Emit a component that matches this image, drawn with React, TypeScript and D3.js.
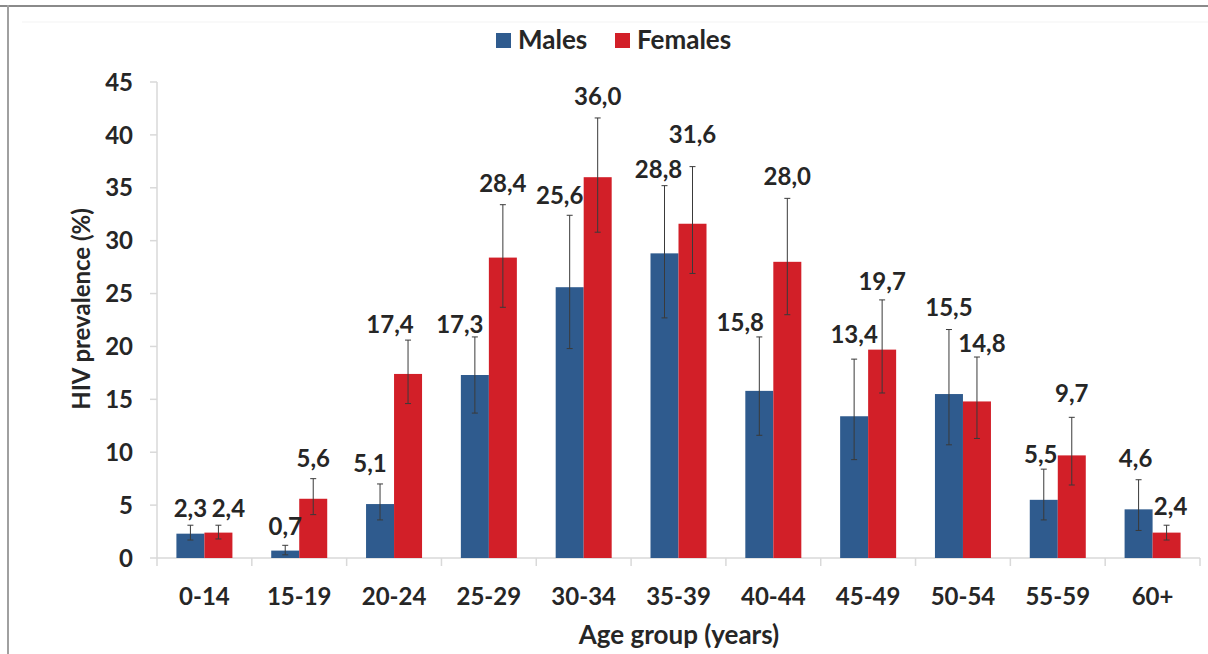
import React from "react";
import * as d3 from "d3";

const categories = ["0-14", "15-19", "20-24", "25-29", "30-34", "35-39", "40-44", "45-49", "50-54", "55-59", "60+"];
const males = [2.3, 0.7, 5.1, 17.3, 25.6, 28.8, 15.8, 13.4, 15.5, 5.5, 4.6];
const malesHigh = [3.1, 1.2, 7.0, 20.9, 32.4, 35.2, 20.9, 18.8, 21.6, 8.4, 7.4];
const malesLow = [1.7, 0.3, 3.6, 13.7, 19.8, 22.7, 11.6, 9.3, 10.7, 3.6, 2.6];
const females = [2.4, 5.6, 17.4, 28.4, 36.0, 31.6, 28.0, 19.7, 14.8, 9.7, 2.4];
const femalesHigh = [3.1, 7.5, 20.6, 33.4, 41.6, 37.0, 34.0, 24.4, 19.0, 13.3, 3.1];
const femalesLow = [1.8, 4.1, 14.6, 23.7, 30.8, 26.9, 23.0, 15.6, 11.3, 6.9, 1.7];
const yTicks = [0, 5, 10, 15, 20, 25, 30, 35, 40, 45];
const seriesNames = ["Males", "Females"];

// label layout nudges (annotation placement, not data)
const maleLabelDx = [0, 0, -10, -15, -10, -6, -19, 0, 0, -3, -3];
const femaleLabelDx = [10, 0, -18, 0, 0, 0, 0, 0, 5, 0, 4];
const maleLabelGap = [8, 10, 12, 4, 11, 8, 6, 16, 14, 6, 13];
const femaleLabelGap = [8, 12, 7, 13, 13, 24, 13, 10, 5, 15, 10];

const W = 1208;
const H = 654;
const left = 157;
const right = 1200;
const top = 82;
const bottom = 558;
const BLUE = "#2f5b8e";
const RED = "#d21f28";
const FONT = "Lato, 'Open Sans', sans-serif";
const TXT = "#262626";

export default function App() {
  const x = d3.scaleBand<string>().domain(categories).range([left, right]).paddingInner(0).paddingOuter(0);
  const y = d3.scaleLinear().domain([0, 45]).range([bottom, top]);
  const bw = 28;
  const fmt = (v: number) => v.toFixed(1).replace(".", ",");

  const series = [
    { name: seriesNames[0], vals: males, hi: malesHigh, lo: malesLow, color: BLUE, off: -bw, dx: maleLabelDx, gap: maleLabelGap },
    { name: seriesNames[1], vals: females, hi: femalesHigh, lo: femalesLow, color: RED, off: 0, dx: femaleLabelDx, gap: femaleLabelGap },
  ];

  return (
    <svg width={W} height={H} style={{ position: "absolute", left: 0, top: 0, background: "#fff" }}>
      <rect x={0} y={0} width={W} height={H} fill="#fff" />
      {/* frame lines */}
      <line x1={0} x2={W} y1={6} y2={6} stroke="#8a8a8a" strokeWidth={2} />
      <line x1={8} x2={8} y1={5} y2={H} stroke="#a0a0a0" strokeWidth={2} />
      <line x1={22} x2={W} y1={22} y2={22} stroke="#f3f3f3" strokeWidth={1} />

      {/* legend */}
      <rect x={496} y={33} width={15} height={15} fill={BLUE} />
      <text x={518} y={49} fontFamily={FONT} fontWeight={700} fontSize={26} fill={TXT}>{seriesNames[0]}</text>
      <rect x={615} y={33} width={15} height={15} fill={RED} />
      <text x={637} y={49} fontFamily={FONT} fontWeight={700} fontSize={26} fill={TXT}>{seriesNames[1]}</text>

      {/* y axis */}
      <line x1={left} x2={left} y1={top} y2={bottom} stroke="#d9d9d9" strokeWidth={1.5} />
      {yTicks.map((t) => (
        <g key={t}>
          <line x1={left - 7} x2={left} y1={y(t)} y2={y(t)} stroke="#d9d9d9" strokeWidth={1.5} />
          <text x={133} y={y(t)} dy="0.36em" textAnchor="end" fontFamily={FONT} fontWeight={700} fontSize={24} fill={TXT}>{t}</text>
        </g>
      ))}

      {/* x axis */}
      <line x1={left} x2={right} y1={bottom} y2={bottom} stroke="#d9d9d9" strokeWidth={1.5} />
      {categories.map((c) => (
        <line key={"t" + c} x1={x(c)!} x2={x(c)!} y1={bottom} y2={bottom + 8} stroke="#d9d9d9" strokeWidth={1.5} />
      ))}
      <line x1={right} x2={right} y1={bottom} y2={bottom + 8} stroke="#d9d9d9" strokeWidth={1.5} />
      {categories.map((c) => (
        <text key={"l" + c} x={x(c)! + x.bandwidth() / 2} y={605} textAnchor="middle" fontFamily={FONT} fontWeight={700} fontSize={24} fill={TXT}>{c}</text>
      ))}

      {/* bars */}
      {series.map((s) =>
        categories.map((c, i) => {
          const cx = x(c)! + x.bandwidth() / 2 + s.off;
          return (
            <rect key={s.name + c} x={cx} y={y(s.vals[i])} width={bw} height={y(0) - y(s.vals[i])} fill={s.color} />
          );
        })
      )}

      {/* error bars */}
      {series.map((s) =>
        categories.map((c, i) => {
          const mx = x(c)! + x.bandwidth() / 2 + s.off + bw / 2;
          return (
            <g key={"e" + s.name + c} stroke="#3a3a3a" strokeWidth={1}>
              <line x1={mx} x2={mx} y1={y(s.hi[i])} y2={y(s.lo[i])} />
              <line x1={mx - 3} x2={mx + 3} y1={y(s.hi[i])} y2={y(s.hi[i])} />
              <line x1={mx - 3} x2={mx + 3} y1={y(s.lo[i])} y2={y(s.lo[i])} />
            </g>
          );
        })
      )}

      {/* value labels */}
      {series.map((s) =>
        categories.map((c, i) => {
          const mx = x(c)! + x.bandwidth() / 2 + s.off + bw / 2 + s.dx[i];
          return (
            <text key={"v" + s.name + c} x={mx} y={y(s.hi[i]) - s.gap[i]} textAnchor="middle" fontFamily={FONT} fontWeight={700} fontSize={24} fill={TXT}>
              {fmt(s.vals[i])}
            </text>
          );
        })
      )}

      {/* axis titles */}
      <text x={679} y={644} textAnchor="middle" fontFamily={FONT} fontWeight={700} fontSize={26} fill={TXT}>Age group (years)</text>
      <text transform="translate(90,309) rotate(-90)" textAnchor="middle" fontFamily={FONT} fontWeight={700} fontSize={24} fill={TXT}>HIV prevalence (%)</text>
    </svg>
  );
}
